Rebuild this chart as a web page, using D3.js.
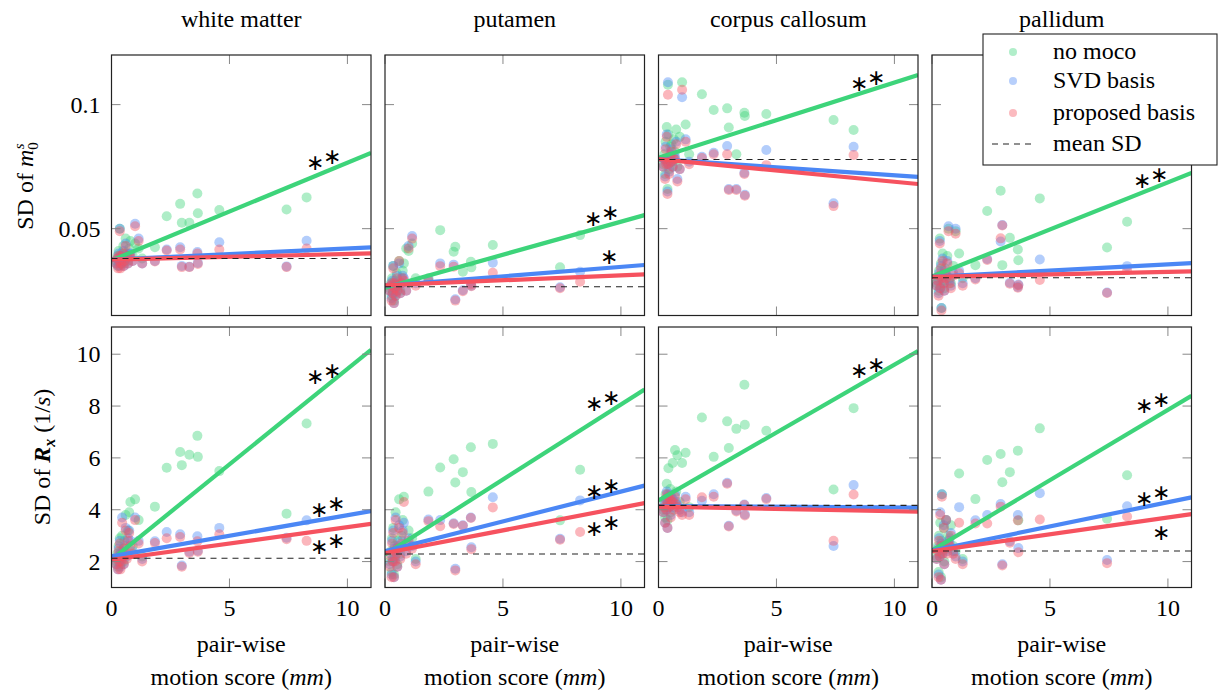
<!DOCTYPE html>
<html>
<head>
<meta charset="utf-8">
<script src="https://cdn.jsdelivr.net/npm/d3@7"></script>
<style>
  body { margin: 0; background: #fff; }
  svg text { font-family: "Liberation Serif"; }
</style>
</head>
<body>
<svg id="chart" width="1219" height="691"></svg>
<script>
// pair-wise motion score per scan pair (mm), shared by every panel
const motion = [0.2, 0.25, 0.28, 0.3, 0.33, 0.35, 0.38, 0.4, 0.42, 0.45, 0.5, 0.52, 0.55, 0.6, 0.65, 0.7, 0.75, 0.8, 0.9, 1.0, 1.15, 1.3,
    1.84, 2.34, 2.91, 2.98, 3.30, 3.64, 3.66, 4.57, 7.42, 8.27];

const regions = ['white matter', 'putamen', 'corpus callosum', 'pallidum'];
const methods = ['no moco', 'SVD basis', 'proposed basis'];

// SD of m0 (top row)
const wmM0Nomoco = [.037,.039,.035,.041,.038,.050,.036,.040,.037,.039,.043,.036,.038,.046,.040,.037,.042,.045,.039,.044,.042,.038, .0425,.0550,.0600,.0524,.0524,.0642,.0562,.0575,.0577,.0626];
const wmM0Svd = [.036,.038,.035,.040,.037,.050,.035,.039,.036,.038,.041,.035,.037,.044,.039,.036,.040,.040,.037,.052,.046,.036, .0370,.0416,.0425,.0350,.0347,.0406,.0362,.0445,.0348,.0451];
const wmM0Prop = [.036,.038,.034,.039,.037,.049,.034,.039,.036,.038,.040,.035,.037,.043,.039,.036,.039,.039,.037,.051,.045,.036, .0368,.0412,.0416,.0345,.0345,.0400,.0358,.0416,.0345,.0420];

const putM0Nomoco = [.026,.028,.023,.030,.025,.035,.021,.029,.027,.024,.032,.026,.028,.037,.025,.030,.033,.036,.042,.041,.044,.030, .0300,.0494,.0407,.0427,.0326,.0367,.0344,.0434,.0344,.0474];
const putM0Svd = [.025,.027,.022,.029,.024,.035,.020,.028,.026,.023,.031,.025,.027,.036,.024,.028,.031,.030,.025,.043,.047,.028, .0295,.0360,.0355,.0215,.0252,.0280,.0270,.0363,.0264,.0326];
const putM0Prop = [.025,.027,.021,.028,.024,.034,.020,.028,.026,.023,.030,.025,.027,.037,.024,.028,.030,.029,.025,.042,.046,.027, .0290,.0349,.0347,.0210,.0248,.0275,.0268,.0322,.0260,.0286];

const ccM0Nomoco = [.076,.080,.072,.085,.078,.091,.066,.108,.088,.074,.083,.079,.084,.077,.086,.081,.090,.075,.087,.109,.092,.080, .1042,.0978,.0985,.0908,.0800,.0967,.0954,.0962,.0938,.0898];
const ccM0Svd = [.075,.078,.071,.083,.077,.088,.065,.109,.076,.073,.080,.077,.082,.075,.079,.079,.085,.070,.074,.103,.086,.077, .0790,.0806,.0833,.0660,.0660,.0725,.0637,.0817,.0602,.0830];
const ccM0Prop = [.075,.078,.070,.082,.076,.087,.064,.104,.076,.072,.079,.077,.081,.075,.078,.078,.084,.069,.074,.106,.085,.076, .0785,.0800,.0800,.0656,.0656,.0720,.0633,.0756,.0591,.0797];

const palM0Nomoco = [.028,.030,.025,.033,.046,.027,.036,.018,.031,.040,.029,.026,.034,.032,.039,.050,.030,.028,.035,.049,.040,.030, .0353,.0571,.0653,.0353,.0463,.0416,.0373,.0622,.0424,.0528];
const palM0Svd = [.027,.029,.024,.032,.045,.026,.035,.018,.030,.038,.028,.025,.033,.031,.037,.051,.029,.027,.032,.050,.033,.028, .0300,.0378,.0448,.0515,.0282,.0265,.0275,.0376,.0243,.0349];
const palM0Prop = [.027,.029,.023,.031,.044,.026,.034,.017,.030,.037,.028,.025,.032,.030,.036,.049,.028,.026,.031,.048,.032,.027, .0295,.0374,.0461,.0513,.0278,.0262,.0272,.0293,.0241,.0333];

// SD of Rx (bottom row)
const wmRxNomoco = [2.0,2.3,1.8,2.6,2.1,2.9,1.9,2.4,2.2,3.0,2.5,2.0,2.8,3.8,2.3,3.2,3.9,4.3,2.6,4.4,3.6,2.2, 4.12,5.62,6.23,5.72,6.12,6.85,6.04,5.49,3.85,7.33];
const wmRxSvd = [1.9,2.2,1.7,2.5,2.0,2.8,1.8,2.3,2.1,3.7,2.4,1.9,2.6,3.3,2.2,2.9,3.2,2.8,2.4,3.7,2.8,2.1, 2.78,3.14,3.05,1.85,2.38,2.98,2.42,3.30,2.92,3.59];
const wmRxProp = [1.9,2.1,1.7,2.4,2.0,2.7,1.7,2.2,2.0,3.5,2.3,1.9,2.5,3.2,2.1,2.8,3.1,2.6,2.3,3.6,2.7,2.0, 2.72,2.90,2.95,1.80,2.33,2.78,2.38,3.05,2.86,2.80];

const putRxNomoco = [2.0,2.4,1.6,2.9,2.1,3.3,1.5,2.6,2.2,3.9,2.5,1.9,2.8,4.4,2.3,3.0,3.6,4.5,2.7,3.2,2.9,2.1, 4.70,5.63,5.95,5.05,5.45,6.41,4.68,6.54,3.59,5.54];
const putRxSvd = [1.9,2.3,1.5,2.8,2.0,3.2,1.4,2.5,2.1,3.7,2.4,1.8,2.6,3.4,2.2,2.8,3.2,3.5,2.4,2.9,2.6,2.0, 3.62,3.60,3.48,1.72,3.40,3.70,2.55,4.48,2.88,4.36];
const putRxProp = [1.8,2.2,1.4,2.7,2.0,3.1,1.4,2.4,2.0,3.6,2.3,1.8,2.5,3.3,2.1,2.7,3.1,4.3,2.3,2.8,2.5,1.9, 3.56,3.36,3.45,1.66,3.38,3.68,2.48,4.09,2.84,3.14];

const ccRxNomoco = [4.0,4.3,3.7,4.6,4.1,5.0,3.6,4.4,5.6,4.2,4.8,3.9,4.5,5.8,4.2,6.3,4.7,6.1,4.3,5.8,6.2,4.1, 7.56,6.04,7.41,6.38,7.12,8.82,7.28,7.05,4.78,7.92];
const ccRxSvd = [3.9,4.2,3.5,4.4,4.0,4.7,3.3,4.3,4.6,4.1,4.5,3.8,4.3,4.4,4.1,4.6,4.3,4.2,4.0,3.9,4.5,3.9, 4.35,4.60,5.04,3.38,3.97,4.20,3.82,4.45,2.60,4.95];
const ccRxProp = [3.9,4.1,3.5,4.4,4.0,4.6,3.3,4.2,4.5,4.1,4.4,3.7,4.2,4.3,4.0,4.5,4.2,4.1,3.9,3.8,4.4,3.8, 4.48,4.50,5.00,3.35,3.93,4.18,3.78,4.41,2.80,4.59];

const palRxNomoco = [2.2,2.6,1.6,3.0,2.3,3.5,1.4,2.8,4.6,2.4,3.3,2.0,2.7,3.6,2.5,3.0,2.9,3.4,2.6,2.4,5.4,2.1, 4.41,5.92,6.15,5.06,5.45,6.28,3.59,7.14,3.65,5.33];
const palRxSvd = [2.1,2.5,1.5,2.9,2.2,3.9,1.3,2.7,4.6,2.3,3.4,1.9,2.6,3.6,2.4,2.8,2.7,3.1,2.4,2.2,4.1,2.0, 3.59,3.80,4.22,1.90,2.78,3.80,2.52,4.64,2.06,4.13];
const palRxProp = [2.1,2.4,1.4,2.8,2.2,3.8,1.3,2.6,4.5,2.3,3.3,1.9,2.5,3.6,2.3,2.7,2.6,3.0,2.3,2.1,3.5,1.9, 3.47,3.47,4.12,1.85,2.73,3.59,2.36,3.62,1.94,3.74];

// linear fits [intercept, slope] per method: no moco, SVD, proposed
const wmM0Fit = [[.0372, .00394], [.0375, .00045], [.0375, .00023]];
const putM0Fit = [[.0262, .00266], [.0270, .00076], [.0272, .0004]];
const ccM0Fit = [[.0786, .00303], [.0780, -.00065], [.0780, -.00091]];
const palM0Fit = [[.0307, .0038], [.0306, .0005], [.0306, .0002]];
const wmRxFit = [[2.07, .736], [2.2, .159], [2.07, .126]];
const putRxFit = [[2.27, .579], [2.4, .23], [2.33, .175]];
const ccRxFit = [[4.36, .524], [4.14, -.005], [4.12, -.018]];
const palRxFit = [[2.43, .542], [2.42, .187], [2.40, .13]];

// mean SD per panel
const m0Mean = [.038, .0266, .0779, .0302];
const rxMean = [2.13, 2.29, 4.17, 2.41];

// significance marks: [x, y, count]
const m0Stars = [[[9.0, .078, 2]], [[9.17, .0555, 2], [9.5, .039, 1]], [[8.88, .110, 2]], [[9.26, .071, 2]]];
const rxStars = [[[9.0, 9.27, 2], [9.15, 4.14, 2], [9.15, 2.72, 2]],
    [[9.24, 8.23, 2], [9.24, 4.83, 2], [9.24, 3.42, 2]],
    [[8.88, 9.52, 2]],
    [[9.36, 8.17, 2], [9.36, 4.57, 2], [9.7, 3.13, 1]]];

const xTicks = [0, 5, 10];
const m0Ticks = [0.05, 0.1];
const rxTicks = [2, 4, 6, 8, 10];

const colors = ['#3dd47a', '#4b87f5', '#f6525f'];

const m0Data = [[wmM0Nomoco, wmM0Svd, wmM0Prop], [putM0Nomoco, putM0Svd, putM0Prop],
    [ccM0Nomoco, ccM0Svd, ccM0Prop], [palM0Nomoco, palM0Svd, palM0Prop]];
const rxData = [[wmRxNomoco, wmRxSvd, wmRxProp], [putRxNomoco, putRxSvd, putRxProp],
    [ccRxNomoco, ccRxSvd, ccRxProp], [palRxNomoco, palRxSvd, palRxProp]];
const m0Fits = [wmM0Fit, putM0Fit, ccM0Fit, palM0Fit];
const rxFits = [wmRxFit, putRxFit, ccRxFit, palRxFit];

const colLeft = 111.5, colStep = 273.5, panelW = 259.5;
const rowTop = [55, 327], panelH = 260.5;
const fontSize = 24;

const svg = d3.select('#chart');

const xScale = d3.scaleLinear().domain([0, 11]).range([0, panelW]);
const yM0 = d3.scaleLinear().domain([0.015, 0.12]).range([panelH, 0]);
const yRx = d3.scaleLinear().domain([1.0, 11.05]).range([panelH, 0]);

function label(parent) {
    return parent.append('text')
        .style('font-family', '"Liberation Serif"')
        .attr('fill', '#000');
}

const rows = [
    { data: m0Data, fits: m0Fits, mean: m0Mean, stars: m0Stars, y: yM0, ticks: m0Ticks, fmt: d => d === 0.1 ? '0.1' : '0.05' },
    { data: rxData, fits: rxFits, mean: rxMean, stars: rxStars, y: yRx, ticks: rxTicks, fmt: d => String(d) }
];

rows.forEach((row, r) => {
    regions.forEach((region, c) => {
        const g = svg.append('g')
            .attr('transform', `translate(${colLeft + c * colStep},${rowTop[r]})`);

        const clipId = `clip-${r}-${c}`;
        g.append('clipPath').attr('id', clipId)
            .append('rect').attr('width', panelW).attr('height', panelH);

        const plot = g.append('g').attr('clip-path', `url(#${clipId})`);

        // scatter, one layer per method
        row.data[c].forEach((vals, m) => {
            plot.append('g').selectAll('circle')
                .data(vals.map((v, i) => [motion[i], v]))
                .enter()
                .append('circle')
                .attr('cx', d => xScale(d[0]))
                .attr('cy', d => row.y(d[1]))
                .attr('r', 5)
                .attr('fill', colors[m])
                .attr('fill-opacity', 0.42);
        });

        // fitted lines
        row.fits[c].forEach((f, m) => {
            plot.append('line')
                .attr('x1', xScale(0)).attr('y1', row.y(f[0]))
                .attr('x2', xScale(11)).attr('y2', row.y(f[0] + f[1] * 11))
                .attr('stroke', colors[m])
                .attr('stroke-width', 4.2);
        });

        // mean SD
        plot.append('line')
            .attr('x1', xScale(0)).attr('x2', xScale(11))
            .attr('y1', row.y(row.mean[c])).attr('y2', row.y(row.mean[c]))
            .attr('stroke', '#222')
            .attr('stroke-width', 1.1)
            .attr('stroke-dasharray', '6,5');

        // ticks on all four sides, pointing inward
        const tl = 9;
        xTicks.forEach(t => {
            const x = xScale(t);
            g.append('line').attr('x1', x).attr('x2', x).attr('y1', panelH).attr('y2', panelH - tl)
                .attr('stroke', '#888');
            g.append('line').attr('x1', x).attr('x2', x).attr('y1', 0).attr('y2', tl)
                .attr('stroke', '#888');
        });
        row.ticks.forEach(t => {
            const y = row.y(t);
            g.append('line').attr('x1', 0).attr('x2', tl).attr('y1', y).attr('y2', y)
                .attr('stroke', '#888');
            g.append('line').attr('x1', panelW).attr('x2', panelW - tl).attr('y1', y).attr('y2', y)
                .attr('stroke', '#888');
        });

        g.append('rect')
            .attr('width', panelW).attr('height', panelH)
            .attr('fill', 'none')
            .attr('stroke', '#222')
            .attr('stroke-width', 1.2);

        // significance stars, second one raised
        row.stars[c].forEach(s => {
            const cx = xScale(s[0]), cy = row.y(s[1]);
            if (s[2] === 1) {
                label(g).attr('font-size', 22).attr('text-anchor', 'middle')
                    .attr('x', cx).attr('y', cy + 8).text('\u2217');
            } else {
                label(g).attr('font-size', 22).attr('text-anchor', 'middle')
                    .attr('x', cx - 8.5).attr('y', cy + 11).text('\u2217');
                label(g).attr('font-size', 22).attr('text-anchor', 'middle')
                    .attr('x', cx + 8.5).attr('y', cy + 5).text('\u2217');
            }
        });

        // tick labels
        if (r === 1) {
            xTicks.forEach(t => {
                label(g)
                    .attr('x', xScale(t)).attr('y', panelH + 28)
                    .attr('text-anchor', 'middle')
                    .attr('font-size', fontSize)
                    .text(t);
            });
            const lx = panelW / 2;
            label(g).attr('x', lx).attr('y', 652 - rowTop[1])
                .attr('text-anchor', 'middle').attr('font-size', fontSize)
                .text('pair-wise');
            const ml = label(g).attr('x', lx).attr('y', 685 - rowTop[1])
                .attr('text-anchor', 'middle').attr('font-size', fontSize);
            ml.append('tspan').text('motion score (');
            ml.append('tspan').attr('font-style', 'italic').text('mm');
            ml.append('tspan').text(')');
        }
        if (c === 0) {
            row.ticks.forEach(t => {
                label(g)
                    .attr('x', -11).attr('y', row.y(t) + 8)
                    .attr('text-anchor', 'end')
                    .attr('font-size', fontSize)
                    .text(row.fmt(t));
            });
        }
        if (r === 0) {
            label(g)
                .attr('x', panelW / 2).attr('y', 27 - rowTop[0])
                .attr('text-anchor', 'middle')
                .attr('font-size', fontSize)
                .text(region);
        }
    });
});

// y axis titles
const yl1 = label(svg)
    .attr('transform', `translate(33,186) rotate(-90)`)
    .attr('text-anchor', 'middle')
    .attr('font-size', fontSize);
yl1.append('tspan').text('SD of ');
yl1.append('tspan').attr('font-style', 'italic').text('m');
yl1.append('tspan').attr('font-size', 15).attr('dy', 5).text('0');
yl1.append('tspan').attr('font-size', 15).attr('font-style', 'italic').attr('dx', -7).attr('dy', -14).text('s');

const yl2 = label(svg)
    .attr('transform', `translate(50,457) rotate(-90)`)
    .attr('text-anchor', 'middle')
    .attr('font-size', fontSize);
yl2.append('tspan').text('SD of ');
yl2.append('tspan').attr('font-style', 'italic').attr('font-weight', 'bold').text('R');
yl2.append('tspan').attr('font-style', 'italic').attr('font-weight', 'bold').attr('font-size', 16).attr('dy', 5).text('x');
yl2.append('tspan').attr('dy', -5).text(' (1/');
yl2.append('tspan').attr('font-style', 'italic').text('s');
yl2.append('tspan').text(')');

// legend
const leg = svg.append('g').attr('transform', 'translate(983,34)');
leg.append('rect')
    .attr('width', 234).attr('height', 131)
    .attr('fill', '#fff')
    .attr('stroke', '#222')
    .attr('stroke-width', 1.1);
const legY = [18, 47, 79, 110];
methods.forEach((name, i) => {
    leg.append('circle').attr('cx', 30).attr('cy', legY[i]).attr('r', 4)
        .attr('fill', colors[i]).attr('fill-opacity', 0.4);
    label(leg).attr('x', 70).attr('y', legY[i] + 7)
        .attr('font-size', fontSize).text(name);
});
leg.append('line')
    .attr('x1', 9).attr('x2', 48)
    .attr('y1', legY[3]).attr('y2', legY[3])
    .attr('stroke', '#222').attr('stroke-width', 1.1)
    .attr('stroke-dasharray', '6,5');
label(leg).attr('x', 70).attr('y', legY[3] + 7)
    .attr('font-size', fontSize).text('mean SD');
</script>
</body>
</html>
